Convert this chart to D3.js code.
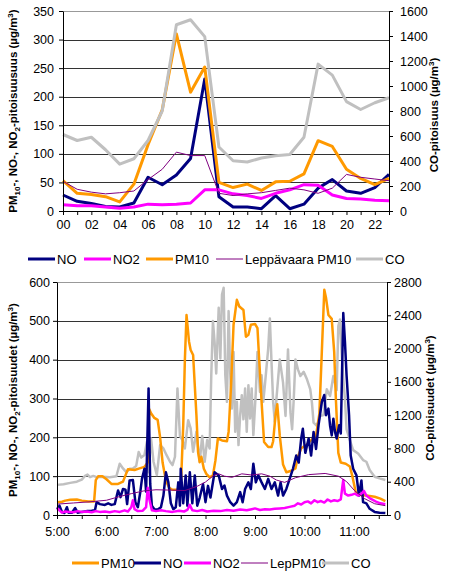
<!DOCTYPE html>
<html>
<head>
<meta charset="utf-8">
<script src="https://cdn.jsdelivr.net/npm/d3@7"></script>
<style>
  body { margin: 0; background: #fff; }
  text { font-family: Arial, "Liberation Sans", sans-serif; fill: #000; }
</style>
</head>
<body>
<div id="chart"></div>
<script>
// ---- top chart: hourly means ----
const hours = [0, 1, 2, 3, 4, 5, 6, 7, 8, 9, 10, 11, 12, 13, 14, 15, 16, 17, 18, 19, 20, 21, 22, 23];
const hourLabels = ["00", "02", "04", "06", "08", "10", "12", "14", "16", "18", "20", "22"];
const hourNO = [28, 17, 13, 8, 7, 14, 59, 46, 63, 92, 231, 25, 7, 7, 4, 27, 4, 12, 40, 55, 35, 31, 41, 64];
const hourNO2 = [11, 9, 9, 7, 5, 7, 12, 11, 12, 14, 37, 37, 30, 27, 22, 31, 37, 46, 45, 28, 22, 21, 19, 18];
const hourPM10 = [53, 31, 29, 25, 16, 47, 116, 177, 310, 208, 252, 50, 41, 47, 36, 51, 52, 65, 123, 113, 73, 57, 46, 57];
const hourLep = [52, 38, 33, 30, 32, 35, 55, 73, 103, 97, 97, 31, 27, 30, 32, 36, 40, 37, 31, 40, 64, 59, 56, 53];
const hourCO = [612, 564, 590, 490, 375, 418, 564, 800, 1490, 1530, 1395, 512, 402, 392, 424, 442, 452, 590, 1175, 1087, 875, 812, 866, 906];

// ---- bottom chart: [minutes after 5:00, value] ----
const minPM10 = [[0,33],[6,34],[10,37],[16,39],[24,40],[30,37],[38,35],[45,35],[47,90],[50,100],[55,100],[60,92],[66,80],[74,80],[80,86],[83,102],[86,118],[94,116],[100,120],[106,124],[110,135],[112,272],[114,262],[118,250],[122,245],[125,200],[128,135],[132,88],[136,70],[140,65],[150,65],[153,230],[155,400],[157,515],[160,447],[162,425],[165,412],[167,334],[169,257],[171,162],[173,136],[175,150],[178,119],[181,106],[185,97],[189,102],[192,140],[195,197],[200,192],[206,190],[208,214],[211,334],[214,490],[218,554],[221,537],[226,528],[229,459],[232,464],[235,490],[240,492],[243,481],[245,403],[248,291],[251,188],[256,175],[260,175],[262,190],[265,260],[267,285],[270,205],[274,130],[278,110],[284,114],[289,120],[292,150],[296,172],[302,180],[308,193],[314,205],[318,260],[321,420],[324,580],[326,560],[329,515],[333,505],[336,420],[338,300],[341,160],[344,135],[350,132],[355,125],[358,100],[362,60],[366,52],[375,50],[385,47],[392,42],[398,36]];
const minNO = [[0,15],[3,24],[6,8],[9,5],[12,20],[14,6],[18,6],[22,18],[25,6],[30,8],[36,10],[42,11],[46,12],[48,33],[52,28],[58,26],[62,30],[66,26],[70,28],[74,63],[77,46],[80,67],[83,65],[85,28],[88,89],[92,90],[95,33],[98,20],[101,60],[103,93],[106,119],[108,60],[111,326],[113,80],[115,24],[118,15],[122,14],[126,20],[129,50],[132,110],[135,84],[138,30],[141,15],[144,20],[147,84],[149,24],[150,119],[153,30],[156,102],[158,24],[161,110],[164,30],[167,102],[170,24],[173,45],[177,80],[180,33],[183,75],[186,45],[191,110],[196,102],[200,67],[203,76],[206,50],[210,33],[214,24],[218,33],[222,59],[225,33],[228,67],[232,84],[235,67],[238,132],[241,84],[244,102],[248,84],[252,67],[256,93],[260,67],[264,84],[268,50],[271,84],[274,50],[278,67],[282,93],[286,119],[290,153],[293,135],[296,197],[298,222],[301,160],[305,197],[308,153],[311,214],[314,170],[317,231],[321,291],[324,309],[326,257],[329,274],[331,230],[333,205],[335,248],[337,214],[339,197],[342,231],[344,210],[347,520],[349,447],[351,360],[354,257],[356,153],[359,119],[363,102],[366,50],[369,89],[371,33],[375,30],[379,16],[385,8],[391,6],[398,5]];
const minNO2 = [[0,18],[3,12],[6,6],[10,9],[15,8],[20,7],[25,10],[30,8],[36,9],[42,7],[47,10],[52,8],[58,9],[64,7],[70,10],[76,8],[82,12],[86,9],[90,20],[92,38],[94,15],[98,10],[104,11],[108,20],[110,70],[112,40],[115,12],[120,10],[126,12],[132,10],[140,8],[148,11],[154,9],[158,13],[161,26],[164,12],[170,10],[176,13],[182,9],[190,11],[198,10],[206,13],[214,11],[222,14],[230,12],[236,15],[240,17],[246,13],[252,15],[258,14],[264,16],[270,17],[276,18],[282,21],[288,24],[292,30],[296,27],[300,33],[304,35],[308,30],[312,38],[316,33],[320,36],[324,32],[328,40],[332,35],[336,38],[340,36],[344,40],[346,75],[347,90],[349,55],[353,50],[357,52],[361,55],[365,50],[369,55],[372,62],[375,50],[380,42],[386,35],[392,30],[398,28]];
const minLep = [[0,28],[20,31],[40,34],[60,38],[75,47],[90,55],[105,62],[120,65],[140,64],[155,63],[170,74],[180,85],[190,102],[196,106],[203,100],[212,97],[224,106],[236,103],[248,106],[258,100],[266,90],[276,84],[289,96],[305,104],[325,107],[341,100],[351,86],[361,62],[373,42],[385,29],[398,24]];
const minCO = [[0,362],[8,370],[16,386],[24,400],[30,426],[34,470],[37,485],[40,455],[44,470],[48,455],[56,460],[64,455],[72,465],[76,615],[80,560],[84,515],[88,555],[92,560],[96,590],[99,756],[102,690],[106,720],[109,880],[111,515],[114,920],[117,640],[121,480],[125,840],[129,800],[133,716],[137,640],[140,600],[143,700],[146,1520],[149,950],[152,900],[155,800],[159,1140],[162,1040],[165,760],[169,1000],[173,640],[176,950],[179,640],[182,900],[185,800],[187,1680],[189,2330],[191,2080],[193,1700],[196,2490],[198,1880],[200,2650],[202,2730],[204,1680],[206,1360],[208,2450],[210,1700],[212,1280],[214,1960],[216,1000],[218,1360],[220,840],[222,1200],[224,1440],[226,1150],[228,1520],[230,1000],[232,1560],[234,1160],[236,1520],[238,960],[241,1480],[243,1960],[246,1480],[248,1680],[250,1360],[252,1560],[256,2000],[258,2360],[260,1840],[262,1360],[264,1120],[266,1400],[270,1870],[274,1590],[277,1190],[280,1990],[283,1230],[285,1030],[287,1400],[289,1870],[292,1750],[295,1670],[299,1720],[303,1630],[307,1510],[309,1350],[311,1110],[315,1070],[319,1190],[323,1200],[327,1510],[331,1430],[335,1670],[339,1500],[341,2270],[343,2350],[345,1950],[347,1630],[349,1400],[351,1030],[355,900],[359,780],[365,740],[371,660],[375,640],[379,540],[385,460],[391,440],[398,420]];

const C = { NO: "#000080", NO2: "#ff00ff", PM10: "#ff9900", Lep: "#800080", CO: "#c0c0c0" };

var svg = d3.select("#chart")
  .append("svg")
  .attr("width", 449)
  .attr("height", 573);

// writes a label with sub/superscripts: parts = [[text, "", "sub" or "sup"], ...]
function richText(sel, parts) {
  var shift = 0;
  parts.forEach(p => {
    var want = p[1] === "sub" ? 3 : p[1] === "sup" ? -4 : 0;
    sel.append("tspan")
      .attr("dy", want - shift)
      .style("font-size", p[1] ? "8px" : null)
      .text(p[0]);
    shift = want;
  });
}

function yTitle(x, y, parts) {
  var t = svg.append("text")
    .attr("transform", `translate(${x},${y}) rotate(-90)`)
    .attr("text-anchor", "middle")
    .style("font-size", "11.5px")
    .style("font-weight", "bold");
  richText(t, parts);
}

function styleAxis(g) {
  g.selectAll("text").style("font-size", "12.5px").style("font-family", "Arial, 'Liberation Sans', sans-serif");
  g.selectAll("line").attr("stroke", "#000");
  g.select(".domain").attr("stroke", "#000");
}

function legend(y, items) {
  items.forEach(it => {
    svg.append("line")
      .attr("x1", it.x).attr("x2", it.x + 27)
      .attr("y1", y).attr("y2", y)
      .attr("stroke", it.color)
      .attr("stroke-width", it.w);
    svg.append("text")
      .attr("x", it.x + 29).attr("y", y + 4.5)
      .style("font-size", "13px")
      .text(it.label);
  });
}

// ================= top chart =================
const T = { left: 63, right: 389, top: 11, bottom: 211 };
const xTop = d3.scaleLinear().domain([0, 23]).range([T.left, T.right]);
const yTop = d3.scaleLinear().domain([0, 350]).range([T.bottom, T.top]);
const yTopCO = d3.scaleLinear().domain([0, 1600]).range([T.bottom, T.top]);

// gridlines
svg.append("g")
  .attr("transform", `translate(${T.left},0)`)
  .call(d3.axisLeft(yTop).tickValues([50, 100, 150, 200, 250, 300]).tickSize(-(T.right - T.left)).tickFormat(""))
  .call(g => g.select(".domain").remove())
  .selectAll("line").attr("stroke", "#333").attr("shape-rendering", "crispEdges");
svg.append("line")
  .attr("x1", T.left).attr("x2", T.right).attr("y1", yTop(350)).attr("y2", yTop(350))
  .attr("stroke", "#999").attr("shape-rendering", "crispEdges");

var topLines = [
  { v: hourNO, c: C.NO, w: 3, s: yTop },
  { v: hourNO2, c: C.NO2, w: 3, s: yTop },
  { v: hourPM10, c: C.PM10, w: 3, s: yTop },
  { v: hourLep, c: C.Lep, w: 1, s: yTop },
  { v: hourCO, c: C.CO, w: 3, s: yTopCO }
];
topLines.forEach(l => {
  svg.append("path")
    .datum(hours)
    .attr("fill", "none")
    .attr("stroke", l.c)
    .attr("stroke-width", l.w)
    .attr("stroke-linejoin", "round")
    .attr("d", d3.line().x(h => xTop(h)).y(h => l.s(l.v[h])));
});

svg.append("g")
  .attr("transform", `translate(${T.left},0)`)
  .call(d3.axisLeft(yTop).ticks(7).tickSize(4).tickSizeOuter(0).tickPadding(5))
  .call(styleAxis);
svg.append("g")
  .attr("transform", `translate(${T.right},0)`)
  .call(d3.axisRight(yTopCO).ticks(8, "d").tickSize(4).tickSizeOuter(0).tickPadding(7))
  .call(styleAxis);
svg.append("g")
  .attr("transform", `translate(0,${T.bottom})`)
  .call(d3.axisBottom(xTop).tickValues(hours).tickSize(4).tickSizeOuter(0).tickPadding(5)
    .tickFormat(h => h % 2 === 0 ? hourLabels[h / 2] : ""))
  .call(styleAxis);

yTitle(17, 111, [["PM", ""], ["10", "sub"], ["-, NO-, NO", ""], ["2", "sub"], ["-pitoisuusuus (µg/m", ""], ["3", "sup"], [")", ""]]);
yTitle(438, 115, [["CO-pitoisuus (µg/m", ""], ["3", "sup"], [")", ""]]);

legend(259, [
  { x: 28, color: C.NO, w: 3, label: "NO" },
  { x: 84, color: C.NO2, w: 3, label: "NO2" },
  { x: 146, color: C.PM10, w: 3, label: "PM10" },
  { x: 216, color: C.Lep, w: 1, label: "Leppävaara PM10" },
  { x: 356, color: C.CO, w: 3, label: "CO" }
]);

// ================= bottom chart =================
const B = { left: 57, right: 387, top: 282, bottom: 515 };
const t0 = new Date(2005, 0, 1, 5, 0);
const toTime = m => d3.timeMinute.offset(t0, m);
const xBot = d3.scaleTime().domain([t0, toTime(400)]).range([B.left, B.right]);
const yBot = d3.scaleLinear().domain([0, 600]).range([B.bottom, B.top]);
const yBotCO = d3.scaleLinear().domain([0, 2800]).range([B.bottom, B.top]);

svg.append("g")
  .attr("transform", `translate(${B.left},0)`)
  .call(d3.axisLeft(yBot).tickValues([100, 200, 300, 400, 500]).tickSize(-(B.right - B.left)).tickFormat(""))
  .call(g => g.select(".domain").remove())
  .selectAll("line").attr("stroke", "#333").attr("shape-rendering", "crispEdges");
svg.append("line")
  .attr("x1", B.left).attr("x2", B.right).attr("y1", yBot(600)).attr("y2", yBot(600))
  .attr("stroke", "#999").attr("shape-rendering", "crispEdges");

var botLines = [
  { v: minCO, c: C.CO, w: 2.5, s: yBotCO },
  { v: minPM10, c: C.PM10, w: 2.5, s: yBot },
  { v: minNO, c: C.NO, w: 2.5, s: yBot },
  { v: minNO2, c: C.NO2, w: 2.5, s: yBot },
  { v: minLep, c: C.Lep, w: 1, s: yBot }
];
botLines.forEach(l => {
  svg.append("path")
    .datum(l.v)
    .attr("fill", "none")
    .attr("stroke", l.c)
    .attr("stroke-width", l.w)
    .attr("stroke-linejoin", "round")
    .attr("d", d3.line().x(d => xBot(toTime(d[0]))).y(d => l.s(d[1])));
});

svg.append("g")
  .attr("transform", `translate(${B.left},0)`)
  .call(d3.axisLeft(yBot).ticks(6).tickSize(4).tickSizeOuter(0).tickPadding(3))
  .call(styleAxis);
svg.append("g")
  .attr("transform", `translate(${B.right},0)`)
  .call(d3.axisRight(yBotCO).tickValues([0, 400, 800, 1200, 1600, 2000, 2400, 2800]).tickFormat(d3.format("d"))
    .tickSize(4).tickSizeOuter(0).tickPadding(3))
  .call(styleAxis);
svg.append("g")
  .attr("transform", `translate(0,${B.bottom})`)
  .call(d3.axisBottom(xBot).ticks(d3.timeMinute.every(30)).tickSize(4).tickSizeOuter(0).tickPadding(8)
    .tickFormat(d => d.getMinutes() === 0 ? d3.timeFormat("%-H:%M")(d) : ""))
  .call(styleAxis);

yTitle(17, 400, [["PM", ""], ["10", "sub"], ["-, NO-, NO", ""], ["2", "sub"], ["-pitoisuudet (µg/m", ""], ["3", "sup"], [")", ""]]);
yTitle(434, 398, [["CO-pitoisuudet (µg/m", ""], ["3", "sup"], [")", ""]]);

legend(563, [
  { x: 72, color: C.PM10, w: 3, label: "PM10" },
  { x: 134, color: C.NO, w: 3, label: "NO" },
  { x: 184, color: C.NO2, w: 3, label: "NO2" },
  { x: 241, color: C.Lep, w: 1, label: "LepPM10" },
  { x: 322, color: C.CO, w: 3, label: "CO" }
]);
</script>
</body>
</html>
